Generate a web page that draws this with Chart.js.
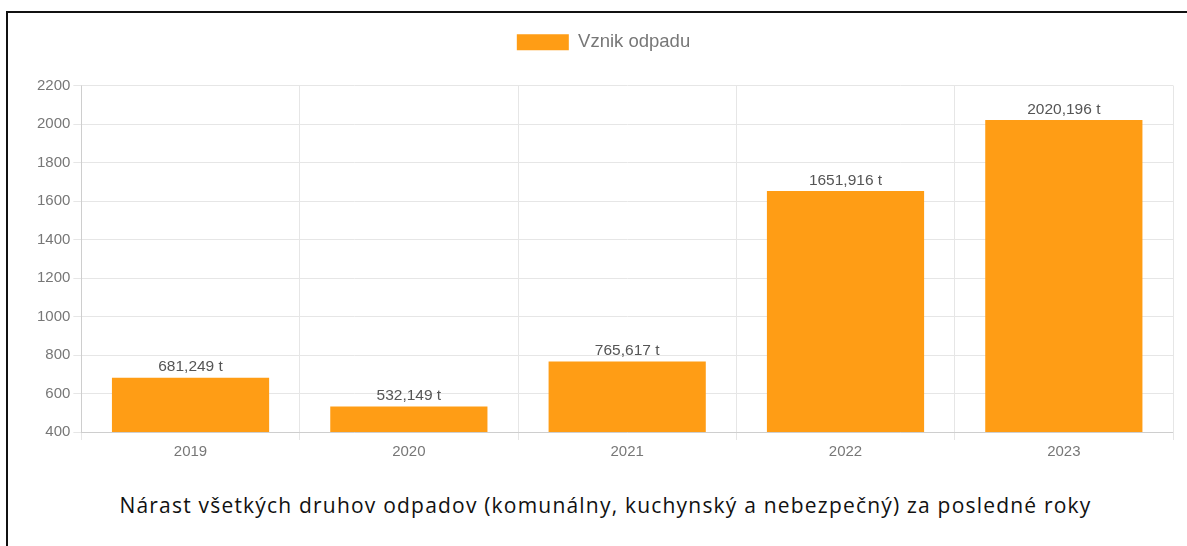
<!DOCTYPE html>
<html>
<head>
<meta charset="utf-8">
<script src="https://cdn.jsdelivr.net/npm/chart.js@4/dist/chart.umd.min.js"></script>
<style>
  body { margin: 0; background: #fff; }
  #frame {
    position: absolute; left: 6px; top: 11px; width: 1181px; height: 535px;
    border-top: 2px solid #111; border-left: 2px solid #111; box-sizing: border-box;
  }
  #wrap { position: absolute; left: 0; top: 0; width: 1179px; height: 451px; }
  #caption {
    position: absolute; left: 8px; width: 1179px; top: 478px; text-align: center;
    font-family: "Open Sans", sans-serif; font-size: 21px; letter-spacing: 1.2px; color: #111;
  }
</style>
</head>
<body>
<div id="frame">
  <div id="wrap"><canvas id="myChart"></canvas></div>
  <div id="caption">Nárast všetkých druhov odpadov (komunálny, kuchynský a nebezpečný) za posledné roky</div>
</div>
<script>
// Data
const years = ['2019', '2020', '2021', '2022', '2023'];
const waste = [681.249, 532.149, 765.617, 1651.916, 2020.196];
const seriesName = 'Vznik odpadu';

// Value labels above bars
const barLabels = {
  id: 'barLabels',
  afterDatasetsDraw(chart) {
    const ctx = chart.ctx;
    const meta = chart.getDatasetMeta(0);
    ctx.save();
    ctx.font = '15.5px Arial, "Liberation Sans", sans-serif';
    ctx.fillStyle = '#555';
    ctx.textAlign = 'center';
    ctx.textBaseline = 'bottom';
    meta.data.forEach((bar, i) => {
      const txt = waste[i].toFixed(3).replace('.', ',') + ' t';
      ctx.fillText(txt, bar.x, bar.y - 3);
    });
    ctx.restore();
  }
};

// Extra room under the legend
const legendGap = {
  id: 'legendGap',
  beforeInit(chart) {
    const origFit = chart.legend.fit;
    chart.legend.fit = function () {
      origFit.bind(chart.legend)();
      this.height += 24;
    };
  }
};

Chart.defaults.font.family = 'Arial, "Liberation Sans", sans-serif';
Chart.defaults.color = '#777';

const ctx = document.getElementById('myChart').getContext('2d');
const myChart = new Chart(ctx, {
  type: 'bar',
  data: {
    labels: years,
    datasets: [{
      label: seriesName,
      data: waste,
      backgroundColor: '#ff9d15',
      borderWidth: 0
    }]
  },
  options: {
    responsive: true,
    maintainAspectRatio: false,
    animation: false,
    layout: { padding: { left: 26, right: 14, top: 10, bottom: 0 } },
    plugins: {
      legend: {
        labels: { boxWidth: 52, boxHeight: 16, font: { size: 18.5 }, color: '#777', padding: 10 }
      },
      tooltip: { enabled: false }
    },
    scales: {
      x: {
        grid: { color: '#e6e6e6' },
        ticks: { font: { size: 15 }, color: '#777' }
      },
      y: {
        min: 400,
        max: 2200,
        ticks: { stepSize: 200, font: { size: 15 }, color: '#777', callback: v => String(v) },
        grid: { color: '#e6e6e6' }
      }
    }
  },
  plugins: [barLabels, legendGap]
});
</script>
</body>
</html>
